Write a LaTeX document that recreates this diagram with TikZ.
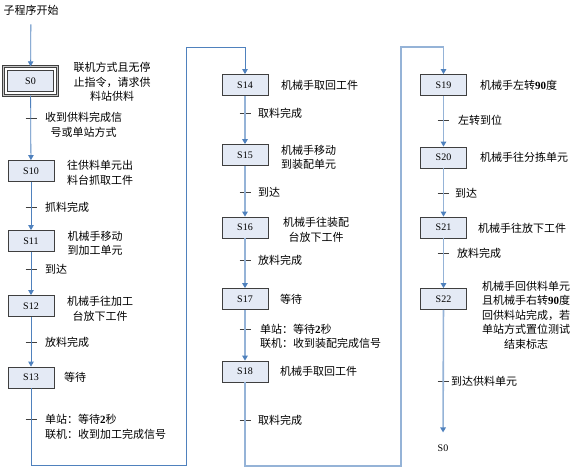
\documentclass[tikz,border=0pt]{standalone}
\usepackage{fontspec}
\setmainfont{Liberation Serif}
\newfontfamily\cjk{Noto Sans CJK SC}
\usetikzlibrary{arrows.meta, fit}

\definecolor{flowdark}{HTML}{4F81BD}
\definecolor{flowlight}{HTML}{95B3D7}
\definecolor{boxfill}{HTML}{E4EAF5}
\definecolor{boxline}{HTML}{3F3F3F}

\begin{document}
\begin{tikzpicture}[x=1pt, y=-1pt,
	stepbox/.style={draw=boxline, fill=boxfill, line width=0.8pt, minimum width=46pt, minimum height=21pt, inner sep=0pt, font=\fontsize{10}{12}\selectfont},
	note/.style={font=\cjk\fontsize{11}{14.5}\selectfont, inner sep=0pt, align=center},
	cond/.style={note, anchor=west, align=left},
	flow/.style={draw=flowdark, line width=0.8pt, -{Triangle[width=5.5pt, length=5pt]}},
	flowwide/.style={draw=flowlight, line width=1.6pt, -{Triangle[width=5.5pt, length=5pt, color=flowdark]}},
	tick/.style={draw=boxline, line width=0.8pt}]

	\useasboundingbox (0,0) rectangle (577,474);

	% steps, first column
	\node[note]    (start) at (31,10)    {子程序开始};
	\node[stepbox] (s0)    at (30.5,81)  {S0};
	\node[draw=boxline, double=gray!45, double distance=1.3pt, line width=0.5pt, fit=(s0), inner sep=3.5pt] (s0frame) {};
	\node[stepbox] (s10)   at (31,171)   {S10};
	\node[stepbox] (s11)   at (31,241)   {S11};
	\node[stepbox] (s12)   at (31,306)   {S12};
	\node[stepbox] (s13)   at (31,377.5) {S13};

	% steps, second column
	\node[stepbox] (s14) at (245,85)    {S14};
	\node[stepbox] (s15) at (245,155)   {S15};
	\node[stepbox] (s16) at (245,227.5) {S16};
	\node[stepbox] (s17) at (245,299)   {S17};
	\node[stepbox] (s18) at (245,371.5) {S18};

	% steps, third column
	\node[stepbox] (s19) at (443.5,85)    {S19};
	\node[stepbox] (s20) at (443.5,157.5) {S20};
	\node[stepbox] (s21) at (443.5,227.5) {S21};
	\node[stepbox] (s22) at (443.5,299)   {S22};
	\node[inner sep=0pt, font=\fontsize{10}{12}\selectfont] (back) at (443,448) {S0};

	% actions
	\node[note] (d0)  at (112,82)    {联机方式且无停\\止指令，请求供\\料站供料};
	\node[note] (d10) at (100,173)   {往供料单元出\\料台抓取工件};
	\node[note] (d11) at (95,243.5)  {机械手移动\\到加工单元};
	\node[note] (d12) at (100,309)   {机械手往加工\\台放下工件};
	\node[cond] (d13) at (64,377)    {等待};
	\node[cond] (d14) at (281,85)    {机械手取回工件};
	\node[note] (d15) at (308.5,157.5) {机械手移动\\到装配单元};
	\node[note] (d16) at (316,230)   {机械手往装配\\台放下工件};
	\node[cond] (d17) at (280,299)   {等待};
	\node[cond] (d18) at (280,371)   {机械手取回工件};
	\node[cond] (d19) at (480,85)    {机械手左转\textrm{\bfseries 90}度};
	\node[cond] (d20) at (480,157)   {机械手往分拣单元};
	\node[cond] (d21) at (478,228)   {机械手往放下工件};
	\node[note] (d22) at (526,315)   {机械手回供料单元\\且机械手右转\textrm{\bfseries 90}度\\回供料站完成，若\\单站方式置位测试\\结束标志};

	% transitions
	\foreach \y in {118,207,269,342,419} \draw[tick] (25.5,\y) -- (36.5,\y);
	\foreach \y in {113,192,260,329,420} \draw[tick] (239.5,\y) -- (250.5,\y);
	\foreach \y in {120,193,253,381} \draw[tick] (437.5,\y) -- (448.5,\y);

	\node[cond, align=center] (t0) at (45,125) {收到供料完成信\\号或单站方式};
	\node[cond] (t1) at (45,207)   {抓料完成};
	\node[cond] (t2) at (45,269)   {到达};
	\node[cond] (t3) at (45,342)   {放料完成};
	\node[cond] (t4) at (45,427)   {单站：等待\textrm{\bfseries 2}秒\\联机：收到加工完成信号};
	\node[cond] (t5) at (258,113)  {取料完成};
	\node[cond] (t6) at (258,192)  {到达};
	\node[cond] (t7) at (258,260)  {放料完成};
	\node[cond] (t8) at (260,336.5) {单站：等待\textrm{\bfseries 2}秒\\联机：收到装配完成信号};
	\node[cond] (t9) at (258,420)  {取料完成};
	\node[cond] (t10) at (458,120) {左转到位};
	\node[cond] (t11) at (455,193) {到达};
	\node[cond] (t12) at (457,253) {放料完成};
	\node[cond] (t13) at (451,381) {到达供料单元};

	% connectors
	\coordinate (c1) at (186,465);
	\coordinate (c2) at (186,47);
	\coordinate (c3) at (401,466);
	\coordinate (c4) at (401,47);

	\draw[flow, shorten <=9pt] (start) -- (s0frame);
	\draw[flow] (s0frame) -- (s10);
	\draw[flow] (s10) -- (s11);
	\draw[flow] (s11) -- (s12);
	\draw[flow] (s12) -- (s13);
	\draw[flow] (s13) |- (c1) -- (c2) -| (s14);
	\draw[flowwide] (s14) -- (s15);
	\draw[flowwide] (s15) -- (s16);
	\draw[flowwide] (s16) -- (s17);
	\draw[flowwide] (s17) -- (s18);
	\draw[flowwide] (s18) |- (c3) -- (c4) -| (s19);
	\draw[flowwide] (s19) -- (s20);
	\draw[flowwide] (s20) -- (s21);
	\draw[flowwide] (s21) -- (s22);
	\draw[flowwide, shorten >=12pt] (s22) -- (back);
\end{tikzpicture}
\end{document}
